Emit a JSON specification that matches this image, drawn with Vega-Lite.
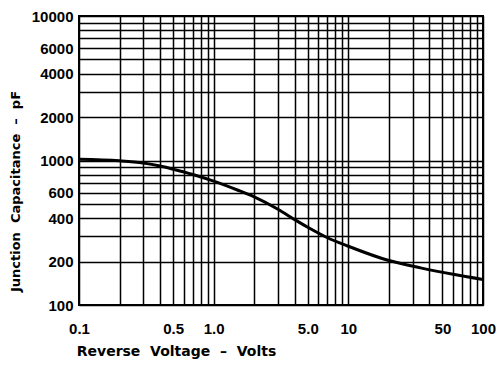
{
  "$schema": "https://vega.github.io/schema/vega-lite/v6.json",
  "width": 404,
  "height": 289,
  "autosize": {"type": "none"},
  "padding": {"left": 79, "top": 16, "right": 14, "bottom": 64},
  "background": "white",
  "data": {"values": [
    {"v": 0.1, "c": 1020},
    {"v": 0.2, "c": 995},
    {"v": 0.3, "c": 960},
    {"v": 0.4, "c": 915},
    {"v": 0.5, "c": 870},
    {"v": 0.7, "c": 800},
    {"v": 1.0, "c": 720},
    {"v": 1.5, "c": 625},
    {"v": 2.0, "c": 560},
    {"v": 3.0, "c": 460},
    {"v": 4.0, "c": 390},
    {"v": 5.0, "c": 345},
    {"v": 7.0, "c": 292},
    {"v": 10, "c": 255},
    {"v": 20, "c": 203},
    {"v": 35, "c": 180},
    {"v": 60, "c": 163},
    {"v": 100, "c": 150}
  ]},
  "mark": {"type": "line", "color": "black", "strokeWidth": 3, "interpolate": "monotone", "clip": true},
  "encoding": {
    "x": {
      "field": "v", "type": "quantitative",
      "scale": {"type": "log", "domain": [0.1, 100], "nice": false},
      "axis": {
        "values": [0.1,0.2,0.3,0.4,0.5,0.6,0.7,0.8,0.9,1,2,3,4,5,6,7,8,9,10,20,30,40,50,60,70,80,90,100],
        "labelExpr": "datum.value==0.1?'0.1':datum.value==0.5?'0.5':datum.value==1?'1.0':datum.value==5?'5.0':datum.value==10?'10':datum.value==50?'50':datum.value==100?'100':''",
        "title": "Reverse\u00a0 Voltage\u00a0 –\u00a0 Volts",
        "titleX": 97, "titleY": 46, "titleAlign": "center", "titleBaseline": "middle",
        "titleFontSize": 14,
        "labelPadding": 16, "labelOverlap": false, "labelFlush": false
      }
    },
    "y": {
      "field": "c", "type": "quantitative",
      "scale": {"type": "log", "domain": [100, 10000], "nice": false},
      "axis": {
        "values": [100,200,300,400,500,600,700,800,900,1000,2000,3000,4000,5000,6000,7000,8000,9000,10000],
        "labelExpr": "indexof([100,200,400,600,1000,2000,4000,6000,10000], datum.value) >= 0 ? format(datum.value, 'd') : ''",
        "title": "Junction\u00a0 Capacitance\u00a0 –\u00a0 pF",
        "titleX": -64, "titleY": 175, "titleAlign": "center", "titleBaseline": "middle", "titleAngle": -90,
        "titleFontSize": 13,
        "labelPadding": 6, "labelOverlap": false, "labelFlush": false
      }
    }
  },
  "config": {
    "view": {"stroke": "black", "strokeWidth": 2},
    "axis": {
      "grid": true, "gridColor": "black", "gridWidth": 1.5, "gridOpacity": 1,
      "ticks": false, "tickSize": 0, "domain": false,
      "labelFont": "Liberation Sans", "labelFontSize": 15, "labelFontWeight": "bold", "labelColor": "black",
      "titleFont": "DejaVu Sans", "titleFontWeight": "bold", "titleColor": "black"
    }
  }
}
